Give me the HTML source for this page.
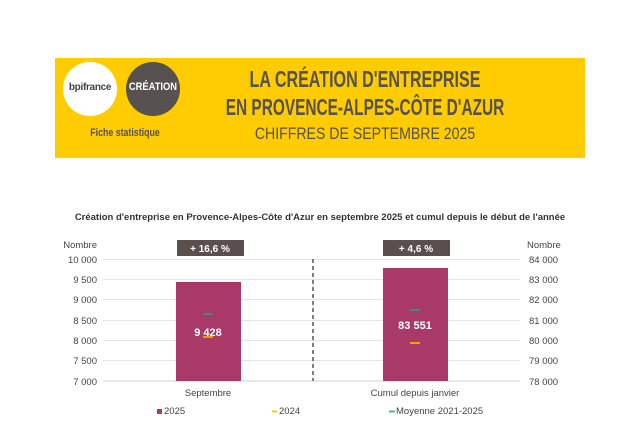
<!DOCTYPE html>
<html><head><meta charset="utf-8"><style>
body{margin:0;width:640px;height:430px;background:#fff;font-family:"Liberation Sans",sans-serif;position:relative;overflow:hidden}
.a{position:absolute;white-space:nowrap}
</style></head><body>
<div class="a" style="left:55px;top:58px;width:530px;height:100px;background:#fecc00"></div>
<div class="a" style="left:63px;top:62px;width:54px;height:54px;border-radius:50%;background:#fff"></div>
<div class="a" style="left:63px;top:82px;width:54px;text-align:center;font-size:10px;font-weight:bold;color:#444;letter-spacing:-0.3px">bpifrance</div>
<div class="a" style="left:126px;top:62px;width:54px;height:54px;border-radius:50%;background:#575150"></div>
<div class="a" style="left:124px;top:81px;width:58px;text-align:center;font-size:11px;font-weight:bold;color:#fff;transform:scaleX(0.85)">CRÉATION</div>
<div class="a" style="left:65px;top:127px;width:120px;text-align:center;font-size:11px;font-weight:bold;color:#575150;transform:scaleX(0.8)">Fiche statistique</div>
<div class="a" style="left:65px;top:66px;width:600px;text-align:center;font-size:23px;font-weight:bold;color:#575150;transform:scaleX(0.70)">LA CRÉATION D'ENTREPRISE</div>
<div class="a" style="left:65px;top:94px;width:600px;text-align:center;font-size:23px;font-weight:bold;color:#575150;transform:scaleX(0.67)">EN PROVENCE-ALPES-CÔTE D'AZUR</div>
<div class="a" style="left:65px;top:124px;width:600px;text-align:center;font-size:17px;color:#575150;transform:scaleX(0.83)">CHIFFRES DE SEPTEMBRE 2025</div>

<div class="a" style="left:0;top:212px;width:640px;text-align:center;font-size:9.5px;font-weight:bold;color:#333">Création d'entreprise en Provence-Alpes-Côte d'Azur en septembre 2025 et cumul depuis le début de l'année</div>

<svg class="a" style="left:0;top:0" width="640" height="430" font-family="Liberation Sans" font-size="9.5" fill="#444">
<g stroke="#e4e4e4" stroke-width="1">
<line x1="103" x2="520" y1="259.5" y2="259.5"/><line x1="103" x2="520" y1="279.5" y2="279.5"/><line x1="103" x2="520" y1="299.5" y2="299.5"/><line x1="103" x2="520" y1="320.5" y2="320.5"/><line x1="103" x2="520" y1="340.5" y2="340.5"/><line x1="103" x2="520" y1="360.5" y2="360.5"/></g>
<line x1="103" x2="520" y1="381" y2="381" stroke="#d0d0d0"/>
<rect x="176" y="282" width="65" height="99" fill="#a93a68"/>
<rect x="383" y="268" width="65" height="113" fill="#a93a68"/>
<line x1="313" x2="313" y1="259" y2="381" stroke="#555" stroke-width="1.5" stroke-dasharray="4,3"/>
<line x1="203" x2="213" y1="314" y2="314" stroke="#3d8a7a" stroke-width="2"/>
<line x1="203" x2="213" y1="337" y2="337" stroke="#f5a000" stroke-width="2"/>
<line x1="410" x2="420" y1="310" y2="310" stroke="#3d8a7a" stroke-width="2"/>
<line x1="410" x2="420" y1="343" y2="343" stroke="#f5a000" stroke-width="2"/>
<text x="208" y="336" text-anchor="middle" fill="#fff" font-weight="bold" font-size="11">9 428</text>
<text x="415" y="329" text-anchor="middle" fill="#fff" font-weight="bold" font-size="11">83 551</text>
<g text-anchor="end"><text x="97" y="248">Nombre</text><text x="97" y="263">10 000</text><text x="97" y="283">9 500</text><text x="97" y="303">9 000</text><text x="97" y="324">8 500</text><text x="97" y="344">8 000</text><text x="97" y="364">7 500</text><text x="97" y="385">7 000</text></g>
<g><text x="527" y="248">Nombre</text><text x="529" y="263">84 000</text><text x="529" y="283">83 000</text><text x="529" y="303">82 000</text><text x="529" y="324">81 000</text><text x="529" y="344">80 000</text><text x="529" y="364">79 000</text><text x="529" y="385">78 000</text></g>
<text x="208" y="396" text-anchor="middle">Septembre</text>
<text x="415" y="396" text-anchor="middle">Cumul depuis janvier</text>
<rect x="177" y="240" width="67" height="16" fill="#5b4f4d"/><text x="210" y="252" text-anchor="middle" fill="#fff" font-weight="bold" font-size="10">+ 16,6 %</text>
<rect x="383" y="240" width="67" height="16" fill="#5b4f4d"/><text x="416" y="252" text-anchor="middle" fill="#fff" font-weight="bold" font-size="10">+ 4,6 %</text>
<rect x="157" y="409" width="5" height="5" fill="#a93a68"/><text x="164" y="414">2025</text>
<line x1="272" x2="277" y1="411.5" y2="411.5" stroke="#f5d000" stroke-width="2"/><text x="279" y="414">2024</text>
<line x1="389" x2="395" y1="411.5" y2="411.5" stroke="#5ab0a0" stroke-width="2"/><text x="396" y="414">Moyenne 2021-2025</text>
</svg>
</body></html>
